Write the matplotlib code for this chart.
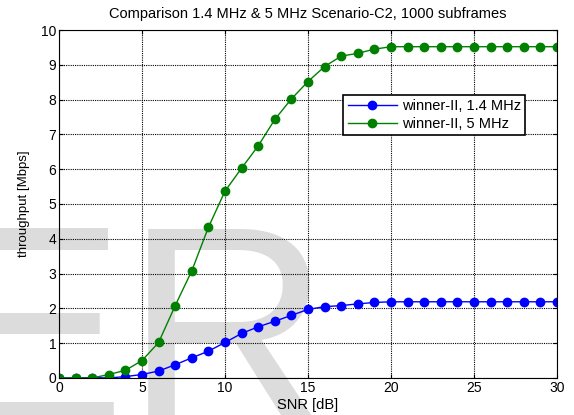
import matplotlib.pyplot as plt
import numpy as np

plt.rcParams['font.family'] = ['Liberation Sans', 'DejaVu Sans']

snr_db = np.arange(0, 31)

# throughput in Mbps, 1000 subframes per SNR point
tput_1p4 = [0.0, 0.0, 0.01, 0.0, 0.04, 0.1, 0.2, 0.38, 0.58, 0.77,
            1.02, 1.28, 1.47, 1.63, 1.80, 1.97, 2.05, 2.08, 2.13, 2.17,
            2.19, 2.19, 2.19, 2.19, 2.19, 2.19, 2.19, 2.19, 2.19, 2.19, 2.19]
tput_5 = [0.0, 0.0, 0.0, 0.1, 0.22, 0.5, 1.02, 2.08, 3.08, 4.33,
          5.37, 6.03, 6.67, 7.43, 8.02, 8.52, 8.95, 9.25, 9.33, 9.45,
          9.52, 9.52, 9.52, 9.52, 9.52, 9.52, 9.52, 9.52, 9.52, 9.52, 9.52]

labels = ['winner-II, 1.4 MHz', 'winner-II, 5 MHz']

fig = plt.figure(figsize=(5.74, 4.15), dpi=100)
fig.text(-0.1115, -0.0217, 'ER', fontsize=205, color='#dcdcdc',
         ha='left', va='baseline', zorder=-1)

ax = fig.add_axes([0.1028, 0.0892, 0.8676, 0.8385])
ax.set_facecolor('none')

ax.plot(snr_db, tput_1p4, '-o', color='#0000ff', lw=1.0, ms=6, label=labels[0])
ax.plot(snr_db, tput_5, '-o', color='#008000', lw=1.0, ms=6, label=labels[1])

ax.set_xlim(0, 30)
ax.set_ylim(0, 10)
ax.set_xticks(range(0, 31, 5))
ax.set_yticks(range(0, 11))
ax.grid(True, color='black', linestyle=(0, (1, 1)), linewidth=0.8)
ax.tick_params(direction='in', length=3, labelsize=10, top=True, right=True, pad=2)
for s in ax.spines.values():
    s.set_linewidth(0.8)

ax.set_title('Comparison 1.4 MHz & 5 MHz Scenario-C2, 1000 subframes', fontsize=10.5, pad=9)
ax.set_xlabel('SNR [dB]', fontsize=10.5, labelpad=2)
ax.set_ylabel('throughput [Mbps]', fontsize=9.5, labelpad=8)

leg = ax.legend(loc='upper right', bbox_to_anchor=(0.936, 0.813), borderaxespad=0,
                fontsize=10.5, fancybox=False, edgecolor='black', framealpha=1,
                handlelength=3.4, handletextpad=0.3, borderpad=0.3, labelspacing=0.25)
leg.get_frame().set_linewidth(1.2)

fig.savefig('out.png', dpi=100)
